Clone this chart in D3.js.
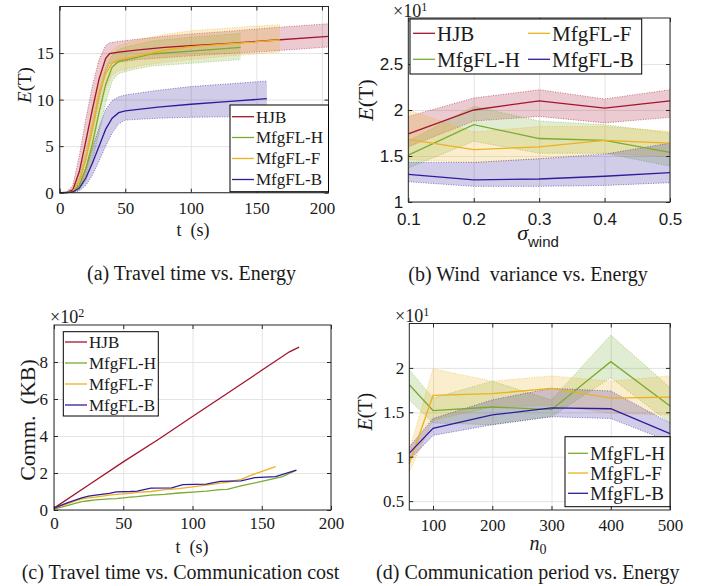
<!doctype html>
<html>
<head>
<meta charset="utf-8">
<title>Energy / communication panels</title>
<script src="https://d3js.org/d3.v7.min.js"></script>
<style>
  body { margin: 0; background: #fff; }
  text { fill: #1a1a1a; }
  .serif { font-family: "Liberation Serif", "Times New Roman", "DejaVu Serif", serif; }
  .sans { font-family: "Liberation Sans", Arial, "DejaVu Sans", sans-serif; }
</style>
</head>
<body>
<svg id="fig" width="709" height="586"></svg>
<script>
// series names and colours (same order everywhere)
const names  = ["HJB", "MfgFL-H", "MfgFL-F", "MfgFL-B"];
const colors = ["#A2142F", "#77AC30", "#EDB120", "#2E1C9C"];

// (a) travel time vs energy  -- t in s, E(T)
const aTimeHJB = [0, 5, 10, 15, 20, 25, 30, 35, 38, 45, 60, 80, 100, 130, 160, 205];
const aMeanHJB = [0, 0.02, 0.3, 2.3, 5.6, 9.0, 12.2, 14.4, 14.95, 15.1, 15.35, 15.6, 15.8, 16.05, 16.35, 16.8];
const aHiHJB   = [0, 0.05, 0.8, 4.0, 8.0, 11.5, 14.3, 15.8, 16.1, 16.25, 16.5, 16.8, 17.05, 17.35, 17.7, 18.15];
const aLoHJB   = [0, 0, 0.1, 1.2, 3.6, 6.6, 10.0, 13.0, 13.9, 14.0, 14.3, 14.5, 14.7, 14.95, 15.2, 15.65];

const aTimeH = [0, 5, 10, 15, 20, 25, 30, 35, 40, 45, 55, 70, 100, 138];
const aMeanH = [0, 0.01, 0.1, 0.8, 2.6, 5.3, 8.6, 11.6, 13.5, 14.1, 14.4, 14.9, 15.2, 15.6];
const aHiH   = [0, 0.02, 0.3, 1.7, 4.3, 7.6, 10.9, 13.4, 14.8, 15.4, 15.8, 16.3, 16.7, 17.1];
const aLoH   = [0, 0, 0.03, 0.3, 1.3, 3.4, 6.4, 9.6, 12.0, 12.8, 13.2, 13.6, 13.9, 14.3];

const aTimeF = [0, 5, 10, 15, 20, 25, 30, 35, 40, 45, 60, 80, 100, 130, 168];
const aMeanF = [0, 0.01, 0.15, 1.2, 3.6, 7.0, 10.5, 12.8, 13.9, 14.3, 14.7, 15.3, 15.7, 16.0, 16.4];
const aHiF   = [0, 0.03, 0.4, 2.2, 5.6, 9.2, 12.4, 14.5, 15.3, 15.8, 16.4, 17.0, 17.4, 17.7, 18.05];
const aLoF   = [0, 0, 0.05, 0.5, 2.0, 4.8, 8.6, 11.2, 12.6, 13.1, 13.6, 14.0, 14.3, 14.7, 15.1];

const aTimeB = [0, 5, 10, 15, 20, 25, 30, 35, 40, 45, 50, 75, 100, 130, 158];
const aMeanB = [0, 0, 0.08, 0.5, 1.6, 3.2, 5.0, 6.8, 8.0, 8.6, 8.8, 9.2, 9.5, 9.8, 10.1];
const aHiB   = [0, 0.01, 0.2, 1.0, 2.7, 4.8, 7.0, 8.9, 9.9, 10.3, 10.5, 11.0, 11.4, 11.7, 12.0];
const aLoB   = [0, 0, 0.02, 0.2, 0.8, 1.9, 3.4, 5.0, 6.4, 7.4, 7.8, 8.0, 8.1, 8.15, 8.2];

const aXTicks = [0, 50, 100, 150, 200];
const aYTicks = [0, 5, 10, 15];

// (b) wind variance vs energy  -- values x10
const bSigma   = [0.1, 0.2, 0.3, 0.4, 0.5];
const bMeanHJB = [1.74, 2.00, 2.10, 2.02, 2.10];
const bHiHJB   = [1.93, 2.13, 2.22, 2.12, 2.22];
const bLoHJB   = [1.60, 1.88, 1.93, 1.86, 1.92];
const bMeanH   = [1.51, 1.84, 1.69, 1.67, 1.54];
const bHiH     = [1.66, 2.04, 1.88, 1.84, 1.75];
const bLoH     = [1.37, 1.66, 1.53, 1.53, 1.39];
const bMeanF   = [1.68, 1.57, 1.60, 1.67, 1.64];
const bHiF     = [2.00, 1.76, 1.82, 1.82, 1.77];
const bLoF     = [1.46, 1.43, 1.47, 1.53, 1.49];
const bMeanB   = [1.30, 1.24, 1.25, 1.28, 1.32];
const bHiB     = [1.43, 1.43, 1.47, 1.52, 1.64];
const bLoB     = [1.22, 1.17, 1.17, 1.18, 1.21];
const bXTicks = [0.1, 0.2, 0.3, 0.4, 0.5];
const bYTicks = [1, 1.5, 2, 2.5];

// (c) travel time vs communication cost  -- KB x100
const cTimeHJB = [0, 25, 50, 75, 100, 125, 150, 170, 177];
const cCommHJB = [0.1, 1.35, 2.6, 3.8, 5.05, 6.3, 7.55, 8.55, 8.8];
const cTimeH = [0, 10, 20, 25, 30, 40, 45, 55, 60, 70, 80, 90, 100, 110, 120, 125, 135, 150, 165, 175];
const cCommH = [0.05, 0.25, 0.45, 0.5, 0.55, 0.6, 0.62, 0.7, 0.72, 0.8, 0.85, 0.92, 0.97, 1.02, 1.1, 1.12, 1.3, 1.55, 1.8, 2.15];
const cTimeF = [0, 10, 20, 25, 30, 40, 45, 55, 60, 70, 80, 90, 100, 110, 120, 125, 135, 145, 160];
const cCommF = [0.1, 0.35, 0.6, 0.65, 0.7, 0.8, 0.85, 0.9, 0.95, 1.0, 1.1, 1.15, 1.25, 1.35, 1.45, 1.5, 1.65, 1.95, 2.35];
const cTimeB = [0, 10, 20, 25, 30, 40, 45, 55, 60, 70, 85, 93, 110, 120, 135, 145, 160, 175];
const cCommB = [0.1, 0.4, 0.65, 0.75, 0.8, 0.9, 0.98, 1.0, 1.02, 1.18, 1.2, 1.37, 1.4, 1.55, 1.57, 1.75, 1.8, 2.15];
const cXTicks = [0, 50, 100, 150, 200];
const cYTicks = [0, 2, 4, 6, 8];

// (d) communication period vs energy  -- values x10
const dPeriod = [60, 100, 200, 300, 400, 500];
const dMeanH  = [1.81, 1.52, 1.56, 1.53, 2.07, 1.57];
const dHiH    = [1.98, 1.66, 1.85, 1.64, 2.37, 1.78];
const dLoH    = [1.64, 1.38, 1.36, 1.45, 1.89, 1.38];
const dMeanF  = [0.92, 1.69, 1.71, 1.77, 1.66, 1.67];
const dHiF    = [1.07, 1.99, 1.85, 1.91, 1.85, 1.91];
const dLoF    = [0.83, 1.41, 1.56, 1.58, 1.49, 1.47];
const dMeanB  = [1.04, 1.32, 1.47, 1.55, 1.54, 1.26];
const dHiB    = [1.11, 1.43, 1.64, 1.77, 1.74, 1.38];
const dLoB    = [0.96, 1.24, 1.36, 1.45, 1.43, 1.17];
const dXTicks = [100, 200, 300, 400, 500];
const dYTicks = [0.5, 1, 1.5, 2];

const svg = d3.select("#fig");
const axisColor = "#262626";

function makePanel(p) {
  const x = d3.scaleLinear().domain(p.xDomain).range([p.left, p.right]);
  const y = d3.scaleLinear().domain(p.yDomain).range([p.bottom, p.top]);
  const g = svg.append("g");
  // grid lines
  g.append("g").attr("class", "grid")
    .attr("transform", `translate(0,${p.bottom})`)
    .call(d3.axisBottom(x).tickValues(p.xTicks).tickSize(-(p.bottom - p.top)).tickFormat(""));
  g.append("g").attr("class", "grid")
    .attr("transform", `translate(${p.left},0)`)
    .call(d3.axisLeft(y).tickValues(p.yTicks).tickSize(-(p.right - p.left)).tickFormat(""));
  g.selectAll(".grid .domain").remove();
  g.selectAll(".grid line").attr("stroke", "#e4e4e4").attr("stroke-width", 1);
  return { g, x, y, p };
}

function band(P, xs, lo, hi, color) {
  const pts = xs.map((v, i) => [v, lo[i], hi[i]]);
  P.g.append("path").datum(pts)
    .attr("d", d3.area().x(d => P.x(d[0])).y0(d => P.y(d[1])).y1(d => P.y(d[2])))
    .attr("fill", color).attr("fill-opacity", 0.22).attr("stroke", "none");
  [lo, hi].forEach(arr => {
    P.g.append("path").datum(xs.map((v, i) => [v, arr[i]]))
      .attr("d", d3.line().x(d => P.x(d[0])).y(d => P.y(d[1])))
      .attr("fill", "none").attr("stroke", color).attr("stroke-opacity", 0.55)
      .attr("stroke-width", 1).attr("stroke-dasharray", "1,1.5");
  });
}

function line(P, xs, ys, color) {
  P.g.append("path").datum(xs.map((v, i) => [v, ys[i]]))
    .attr("d", d3.line().x(d => P.x(d[0])).y(d => P.y(d[1])))
    .attr("fill", "none").attr("stroke", color).attr("stroke-width", 1.3);
}

function frame(P, o) {
  const { g, x, y, p } = P;
  const bx = g.append("g").attr("transform", `translate(0,${p.bottom})`)
    .call(d3.axisBottom(x).tickValues(p.xTicks).tickSize(-4).tickPadding(o.xPad).tickFormat(o.xFmt));
  const tx = g.append("g").attr("transform", `translate(0,${p.top})`)
    .call(d3.axisTop(x).tickValues(p.xTicks).tickSize(-4).tickFormat(""));
  const ly = g.append("g").attr("transform", `translate(${p.left},0)`)
    .call(d3.axisLeft(y).tickValues(p.yTicks).tickSize(-4).tickPadding(o.yPad).tickFormat(o.yFmt));
  const ry = g.append("g").attr("transform", `translate(${p.right},0)`)
    .call(d3.axisRight(y).tickValues(p.yTicks).tickSize(-4).tickFormat(""));
  [bx, tx, ly, ry].forEach(a => {
    a.attr("font-family", null).attr("font-size", null);
    a.select(".domain").remove();
    a.selectAll("line").attr("stroke", axisColor);
    a.selectAll("text").attr("fill", axisColor)
      .attr("class", o.font).style("font-size", o.size + "px");
  });
  g.append("rect")
    .attr("x", p.left).attr("y", p.top)
    .attr("width", p.right - p.left).attr("height", p.bottom - p.top)
    .attr("fill", "none").attr("stroke", axisColor).attr("stroke-width", 1);
}

function legend(P, box, rows, size) {
  const g = P.g.append("g");
  g.append("rect").attr("x", box[0]).attr("y", box[1])
    .attr("width", box[2] - box[0]).attr("height", box[3] - box[1])
    .attr("fill", "#fff").attr("stroke", "#000").attr("stroke-width", 1);
  rows.forEach(r => {
    g.append("line").attr("x1", r.x).attr("x2", r.x + r.len)
      .attr("y1", r.y).attr("y2", r.y)
      .attr("stroke", colors[r.i]).attr("stroke-width", 1.3);
    g.append("text").attr("class", "serif")
      .attr("x", r.x + r.len + 2).attr("y", r.y).attr("dy", "0.35em")
      .style("font-size", size + "px")
      .text(names[r.i]);
  });
}

function eLabel(x, y, size) {
  const t = svg.append("text").attr("class", "serif")
    .attr("transform", `translate(${x},${y}) rotate(-90)`)
    .attr("text-anchor", "middle").attr("dy", "0.35em")
    .style("font-size", size + "px");
  t.append("tspan").style("font-style", "italic").text("E");
  t.append("tspan").text("(T)");
}

function exponent(x, y, p) {
  const t = svg.append("text").attr("class", "serif").attr("x", x).attr("y", y)
    .style("font-size", "18px");
  t.append("tspan").text("\u00d710");
  t.append("tspan").attr("dy", -6).style("font-size", "12px").text(p);
}

function caption(x, y, s) {
  svg.append("text").attr("class", "serif").attr("x", x).attr("y", y).attr("dy", "0.35em")
    .attr("text-anchor", "middle").style("white-space", "pre")
    .style("font-size", "20px").text(s);
}

function plainLabel(x, y, s, size) {
  svg.append("text").attr("class", "serif").attr("x", x).attr("y", y).attr("dy", "0.35em")
    .attr("text-anchor", "middle").style("white-space", "pre")
    .style("font-size", size + "px").text(s);
}

// ---------- (a)
const A = makePanel({ left: 59.7, right: 328.5, top: 6.5, bottom: 192.7,
  xDomain: [0, 205], yDomain: [0, 20], xTicks: aXTicks, yTicks: aYTicks });
band(A, aTimeHJB, aLoHJB, aHiHJB, colors[0]);
band(A, aTimeH, aLoH, aHiH, colors[1]);
band(A, aTimeF, aLoF, aHiF, colors[2]);
band(A, aTimeB, aLoB, aHiB, colors[3]);
line(A, aTimeHJB, aMeanHJB, colors[0]);
line(A, aTimeH, aMeanH, colors[1]);
line(A, aTimeF, aMeanF, colors[2]);
line(A, aTimeB, aMeanB, colors[3]);
frame(A, { xPad: 9, yPad: 6, xFmt: d3.format("d"), yFmt: d3.format("d"), font: "serif", size: 17 });
legend(A, [230, 105, 328.5, 191.7], [
  { i: 0, x: 232, y: 116.7, len: 22 }, { i: 1, x: 232, y: 137.5, len: 22 },
  { i: 2, x: 232, y: 158.5, len: 22 }, { i: 3, x: 232, y: 179.5, len: 22 }], 17);
eLabel(24, 85, 19);
plainLabel(193, 230, "t  (s)", 18);
caption(191.5, 273, "(a) Travel time vs. Energy");

// ---------- (b)
const B = makePanel({ left: 408.3, right: 670, top: 18, bottom: 202,
  xDomain: [0.1, 0.5], yDomain: [1, 3], xTicks: bXTicks, yTicks: bYTicks });
band(B, bSigma, bLoHJB, bHiHJB, colors[0]);
band(B, bSigma, bLoH, bHiH, colors[1]);
band(B, bSigma, bLoF, bHiF, colors[2]);
band(B, bSigma, bLoB, bHiB, colors[3]);
line(B, bSigma, bMeanHJB, colors[0]);
line(B, bSigma, bMeanH, colors[1]);
line(B, bSigma, bMeanF, colors[2]);
line(B, bSigma, bMeanB, colors[3]);
frame(B, { xPad: 11, yPad: 5, xFmt: d3.format(".1f"), yFmt: d => String(d), font: "sans", size: 17 });
legend(B, [410, 19, 641.7, 74], [
  { i: 0, x: 413, y: 33.3, len: 22 }, { i: 2, x: 528, y: 33.3, len: 22 },
  { i: 1, x: 413, y: 59.3, len: 22 }, { i: 3, x: 528, y: 59.3, len: 22 }], 21);
eLabel(365, 100, 22);
exponent(393, 17, "1");
{
  const t = svg.append("text").attr("class", "serif").attr("x", 538).attr("y", 240)
    .attr("text-anchor", "middle").style("font-size", "22px");
  t.append("tspan").style("font-style", "italic").text("\u03c3");
  t.append("tspan").attr("class", "sans").attr("dy", 7).style("font-size", "15px").text("wind");
}
caption(528, 274, "(b) Wind  variance vs. Energy");

// ---------- (c)
const C = makePanel({ left: 54, right: 331, top: 325, bottom: 510,
  xDomain: [0, 200], yDomain: [0, 10], xTicks: cXTicks, yTicks: cYTicks });
line(C, cTimeHJB, cCommHJB, colors[0]);
line(C, cTimeH, cCommH, colors[1]);
line(C, cTimeF, cCommF, colors[2]);
line(C, cTimeB, cCommB, colors[3]);
frame(C, { xPad: 7, yPad: 6, xFmt: d3.format("d"), yFmt: d3.format("d"), font: "serif", size: 17 });
legend(C, [63.3, 331.7, 158.3, 416], [
  { i: 0, x: 65, y: 342, len: 22 }, { i: 1, x: 65, y: 363, len: 22 },
  { i: 2, x: 65, y: 384, len: 22 }, { i: 3, x: 65, y: 405, len: 22 }], 17);
svg.append("text").attr("class", "serif").attr("transform", "translate(27,420) rotate(-90)")
  .attr("text-anchor", "middle").attr("dy", "0.35em").style("white-space", "pre")
  .style("font-size", "22px").text("Comm.  (KB)");
plainLabel(192, 547, "t  (s)", 18);
exponent(50, 322.5, "2");
caption(180.5, 571.7, "(c) Travel time vs. Communication cost");

// ---------- (d)
const D = makePanel({ left: 409.3, right: 670, top: 323.5, bottom: 510,
  xDomain: [60, 500], yDomain: [0.4, 2.5], xTicks: dXTicks, yTicks: dYTicks });
band(D, dPeriod, dLoH, dHiH, colors[1]);
band(D, dPeriod, dLoF, dHiF, colors[2]);
band(D, dPeriod, dLoB, dHiB, colors[3]);
line(D, dPeriod, dMeanH, colors[1]);
line(D, dPeriod, dMeanF, colors[2]);
line(D, dPeriod, dMeanB, colors[3]);
frame(D, { xPad: 9, yPad: 5, xFmt: d3.format("d"), yFmt: d => String(d), font: "serif", size: 17 });
legend(D, [565, 436.7, 670, 506.7], [
  { i: 1, x: 568, y: 453.3, len: 20 }, { i: 2, x: 568, y: 473, len: 20 },
  { i: 3, x: 568, y: 493.3, len: 20 }], 19);
eLabel(365, 411.7, 20);
exponent(395, 321.7, "1");
{
  const t = svg.append("text").attr("class", "serif").attr("x", 538).attr("y", 550)
    .attr("text-anchor", "middle").style("font-size", "20px");
  t.append("tspan").style("font-style", "italic").text("n");
  t.append("tspan").attr("dy", 4).style("font-size", "14px").text("0");
}
caption(527.8, 571.7, "(d) Communication period vs. Energy");
</script>
</body>
</html>
